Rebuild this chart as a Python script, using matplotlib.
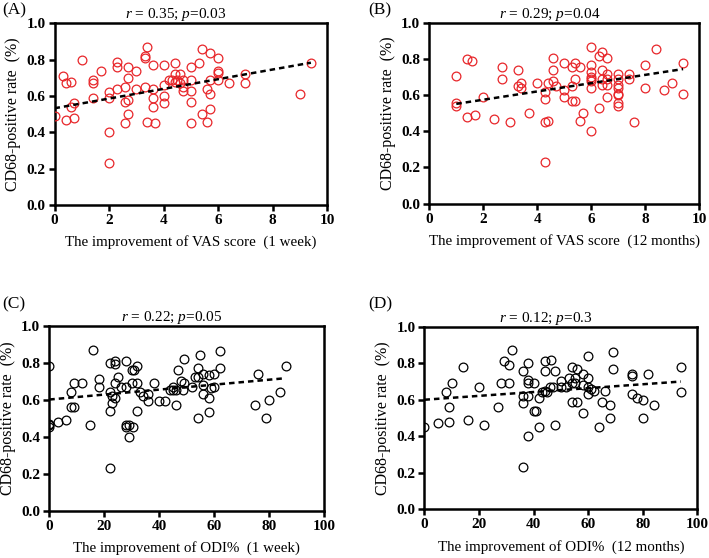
import matplotlib
matplotlib.use("Agg")
import matplotlib.pyplot as plt
import numpy as np

# Panel A: VAS improvement at 1 week vs CD68-positive rate
vas_1w_x = [0, 0.3, 0.43, 0.43, 0.62, 0.62, 0.7, 0.7, 1.0, 1.4, 1.4, 1.4, 1.7,
            2.0, 2.0, 2.0, 2.0, 2.3, 2.3, 2.3, 2.6, 2.6, 2.6, 2.7, 2.7, 2.7, 2.7,
            3.0, 3.0, 3.3, 3.3, 3.3, 3.4, 3.4, 3.6, 3.6, 3.6, 3.6, 3.7,
            4.0, 4.0, 4.0, 4.0, 4.2, 4.3, 4.4, 4.4, 4.4, 4.5, 4.6, 4.6,
            4.7, 4.7, 4.7, 5.0, 5.0, 5.0, 5.0, 5.0, 5.3, 5.4, 5.4, 5.6, 5.6,
            5.7, 5.7, 5.7, 5.7, 6.0, 6.0, 6.0, 6.0, 6.4, 7.0, 7.0, 9.0, 9.4]
vas_1w_y = [0.49, 0.71, 0.67, 0.47, 0.68, 0.54, 0.56, 0.48, 0.80, 0.69, 0.67, 0.59, 0.74,
            0.62, 0.59, 0.40, 0.23, 0.79, 0.76, 0.64, 0.65, 0.57, 0.45, 0.76, 0.70, 0.58, 0.50,
            0.74, 0.64, 0.82, 0.81, 0.65, 0.87, 0.46, 0.77, 0.64, 0.59, 0.54, 0.45,
            0.77, 0.66, 0.60, 0.56, 0.69, 0.69, 0.78, 0.72, 0.68, 0.69, 0.72, 0.67,
            0.69, 0.65, 0.63, 0.76, 0.69, 0.63, 0.57, 0.45, 0.78, 0.86, 0.50, 0.64, 0.46,
            0.84, 0.69, 0.61, 0.53, 0.81, 0.74, 0.73, 0.69, 0.67, 0.72, 0.67, 0.61, 0.78]

# Panel B: VAS improvement at 12 months
vas_12m_x = [1.0, 1.0, 1.0, 1.4, 1.4, 1.6, 1.7, 2.0, 2.4, 2.7, 2.7, 3.0, 3.3, 3.3,
             3.4, 3.4, 3.7, 4.0, 4.3, 4.3, 4.3, 4.3, 4.4, 4.4, 4.6, 4.6, 4.6, 4.7,
             5.0, 5.0, 5.0, 5.3, 5.3, 5.3, 5.4, 5.4, 5.4, 5.6, 5.6, 5.7,
             6.0, 6.0, 6.0, 6.0, 6.0, 6.0, 6.0, 6.0, 6.3, 6.3, 6.4, 6.4, 6.4, 6.4,
             6.6, 6.6, 6.6, 6.6, 6.6, 7.0, 7.0, 7.0, 7.0, 7.0, 7.0, 7.0, 7.0,
             7.4, 7.4, 7.6, 8.0, 8.0, 8.4, 8.7, 9.0, 9.4, 9.4]
vas_12m_y = [0.71, 0.56, 0.54, 0.80, 0.48, 0.79, 0.49, 0.59, 0.47, 0.76, 0.69, 0.45, 0.74, 0.65,
             0.67, 0.64, 0.50, 0.67, 0.62, 0.58, 0.45, 0.23, 0.67, 0.46, 0.81, 0.74, 0.68, 0.65,
             0.78, 0.63, 0.59, 0.76, 0.65, 0.57, 0.78, 0.69, 0.57, 0.76, 0.46, 0.50,
             0.87, 0.77, 0.73, 0.70, 0.69, 0.68, 0.64, 0.40, 0.82, 0.53, 0.84, 0.74, 0.69, 0.66,
             0.81, 0.72, 0.69, 0.66, 0.59, 0.72, 0.69, 0.66, 0.64, 0.61, 0.60, 0.56, 0.54,
             0.72, 0.69, 0.45, 0.77, 0.64, 0.86, 0.63, 0.67, 0.78, 0.61]

# Panel C: ODI% improvement at 1 week
odi_1w_x = [0, 0, 0, 0, 3, 6, 8, 8, 9, 9, 12, 15, 16, 18, 18,
            22, 22, 22, 22, 23, 23, 24, 24, 24, 24, 25, 26, 28, 28, 28, 28, 29, 29,
            30, 30, 30.5, 31, 32, 32, 32, 33, 34, 36, 36, 38, 40, 42,
            44, 45, 45, 46, 46, 47, 48, 48.5, 49, 49, 52, 53, 54, 54, 54, 55,
            56, 56, 56, 58, 58, 58, 59, 60, 60, 62, 62, 75, 76, 79, 80, 84, 86]
odi_1w_y = [0.78, 0.47, 0.46, 0.45, 0.48, 0.49, 0.64, 0.56, 0.69, 0.56, 0.69, 0.46, 0.87, 0.71, 0.67,
            0.80, 0.64, 0.54, 0.23, 0.62, 0.58, 0.81, 0.79, 0.69, 0.61, 0.72, 0.67, 0.67, 0.46, 0.45, 0.81, 0.46, 0.40,
            0.76, 0.69, 0.45, 0.76, 0.78, 0.69, 0.54, 0.64, 0.62, 0.63, 0.59, 0.69, 0.59, 0.59,
            0.65, 0.67, 0.65, 0.65, 0.57, 0.76, 0.70, 0.65, 0.69, 0.82, 0.67, 0.72, 0.72, 0.77, 0.50, 0.84,
            0.74, 0.68, 0.63, 0.73, 0.61, 0.53, 0.66, 0.67, 0.74, 0.86, 0.77, 0.57, 0.74, 0.50, 0.60, 0.64, 0.78]

# Panel D: ODI% improvement at 12 months
odi_12m_x = [0, 5, 8, 9, 9, 10, 14, 16, 20, 22, 27, 28, 29, 31, 31, 32,
             36, 36, 36, 36, 38, 38, 38, 38, 38, 40, 40, 41, 42, 42, 43,
             44, 44, 44, 45, 46, 46.5, 47, 48, 48, 50, 50, 52, 53, 54, 54, 54,
             55, 55, 56, 56, 58, 58, 58, 60, 60, 60, 60, 61, 62, 64, 65, 66,
             68, 68, 69, 69, 76, 76, 76, 78, 80, 80, 82, 84, 94, 94]
odi_12m_y = [0.45, 0.47, 0.64, 0.56, 0.48, 0.69, 0.78, 0.49, 0.67, 0.46, 0.56, 0.69, 0.81, 0.79, 0.69, 0.87,
             0.76, 0.62, 0.58, 0.23, 0.80, 0.71, 0.69, 0.62, 0.40, 0.69, 0.54, 0.54, 0.61, 0.45, 0.64,
             0.81, 0.76, 0.65, 0.64, 0.67, 0.82, 0.67, 0.76, 0.46, 0.70, 0.67, 0.67, 0.72, 0.78, 0.69, 0.59,
             0.72, 0.69, 0.77, 0.59, 0.74, 0.68, 0.53, 0.84, 0.72, 0.67, 0.63, 0.66, 0.65, 0.45, 0.59, 0.65,
             0.57, 0.50, 0.86, 0.77, 0.74, 0.73, 0.63, 0.61, 0.60, 0.50, 0.74, 0.57, 0.78, 0.64]

# regression lines (intercept, slope)
fit_intercept = [0.533, 0.530, 0.600, 0.600]
fit_slope = [0.0267, 0.0230, 0.00134, 0.00106]

panel_letters = ["(A)", "(B)", "(C)", "(D)"]
stats_r = ["0.35", "0.29", "0.22", "0.12"]
stats_p = ["0.03", "0.04", "0.05", "0.3"]
xlabels = ["The improvement of VAS score  (1 week)",
           "The improvement of VAS score  (12 months)",
           "The improvement of ODI%  (1 week)",
           "The improvement of ODI%  (12 months)"]
ylabel = "CD68-positive rate  (%)"

plt.rcParams["font.family"] = ["Liberation Serif", "DejaVu Serif"]
plt.rcParams["mathtext.fontset"] = "custom"
plt.rcParams["mathtext.it"] = "Liberation Serif:italic"
plt.rcParams["mathtext.rm"] = "Liberation Serif"

W, H = 709, 558
fig = plt.figure(figsize=(W / 100, H / 100), dpi=100)

# axes boxes in figure fractions
boxes = [
    [0.0769, 0.6326, 0.3847, 0.3253],
    [0.6055, 0.6353, 0.3808, 0.3229],
    [0.0695, 0.0851, 0.3875, 0.3315],
    [0.5987, 0.0873, 0.3848, 0.3272],
]
# panel letter positions (px from top-left)
letter_pos = [(2, 10), (368, 10), (2, 304), (368, 304)]

datasets = [
    (vas_1w_x, vas_1w_y, "#e8262a", 10),
    (vas_12m_x, vas_12m_y, "#e8262a", 10),
    (odi_1w_x, odi_1w_y, "black", 100),
    (odi_12m_x, odi_12m_y, "black", 100),
]

for i, (box, (xs, ys, col, xmax)) in enumerate(zip(boxes, datasets)):
    ax = fig.add_axes(box)
    xs = np.array(xs)
    ys = np.array(ys)
    ax.plot(xs, ys, "o", mfc="none", mec=col, ms=6.3, mew=0.9, zorder=3)

    lx = np.array([xs.min(), xs.max()])
    ax.plot(lx, fit_intercept[i] + fit_slope[i] * lx, ls=(0, (2.2, 1.6)),
            color="black", lw=1.8, zorder=4)

    ax.set_xlim(0, xmax)
    ax.set_ylim(0, 1.0)
    ax.set_xticks(np.linspace(0, xmax, 6))
    ax.set_yticks([0, 0.2, 0.4, 0.6, 0.8, 1.0])
    ax.set_yticklabels(["0.0", "0.2", "0.4", "0.6", "0.8", "1.0"])
    for s in ax.spines.values():
        s.set_linewidth(1.8)
    ax.tick_params(direction="out", length=4.5, width=1.8, labelsize=11, pad=2)
    for lab in ax.get_xticklabels() + ax.get_yticklabels():
        lab.set_fontweight("bold")

    ax.set_xlabel(xlabels[i], fontsize=10.8, labelpad=6)
    ax.set_ylabel(ylabel, fontsize=11.5, labelpad=4)
    ax_w_px = box[2] * W
    ax.set_title(r"$\mathit{r}$ = %s; $\mathit{p}$=%s" % (stats_r[i], stats_p[i]),
                 fontsize=11, pad=2, x=0.5 - 15 / ax_w_px)

    lx_px, ly_px = letter_pos[i]
    fig.text(lx_px / W, 1 - ly_px / H, panel_letters[i], fontsize=12.5,
             ha="left", va="center")

fig.savefig("out.png", dpi=100)
